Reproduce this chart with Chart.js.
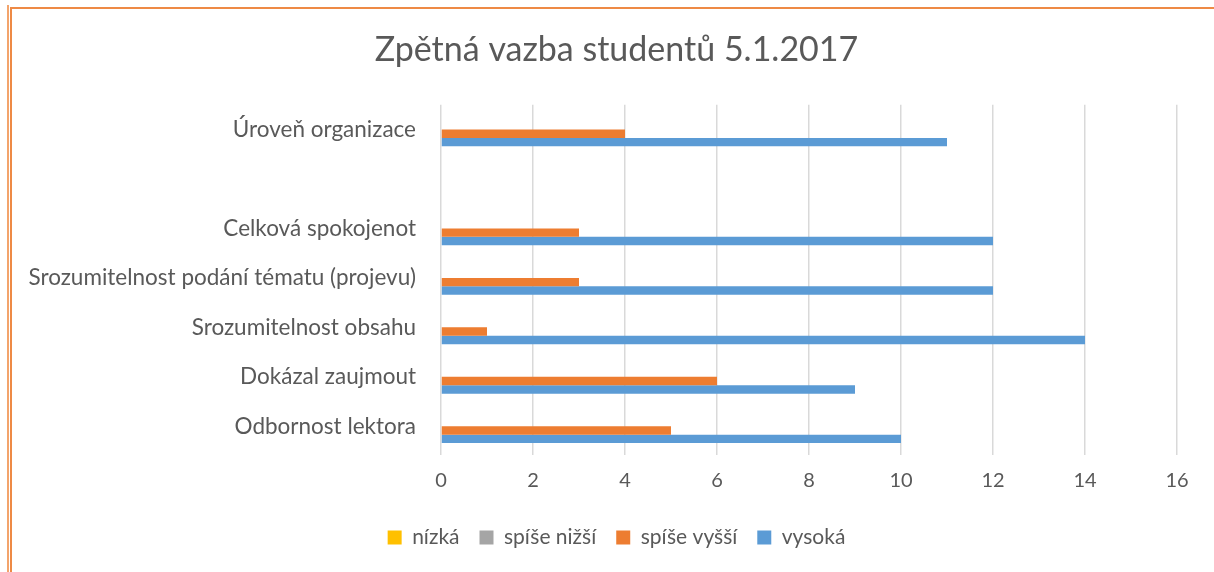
<!DOCTYPE html>
<html>
<head>
<meta charset="utf-8">
<script src="https://cdn.jsdelivr.net/npm/chart.js@4"></script>
<style>
html,body{margin:0;padding:0;background:#fff;}
#wrap{position:relative;width:1214px;height:572px;}
</style>
</head>
<body>
<div id="wrap"><canvas id="c" width="1214" height="572"></canvas></div>
<script>
const categories = [
  'Úroveň organizace',
  '',
  'Celková spokojenot',
  'Srozumitelnost podání tématu (projevu)',
  'Srozumitelnost obsahu',
  'Dokázal zaujmout',
  'Odbornost lektora'
];
const seriesNames = ['nízká', 'spíše nižší', 'spíše vyšší', 'vysoká'];
const nizka      = [0, null, 0, 0, 0, 0, 0];
const spiseNizsi = [0, null, 0, 0, 0, 0, 0];
const spiseVyssi = [4, null, 3, 3, 1, 6, 5];
const vysoka     = [11, null, 12, 12, 14, 9, 10];
const xTicks = [0, 2, 4, 6, 8, 10, 12, 14, 16];
const colors = ['#FFC000', '#A5A5A5', '#ED7D31', '#5B9BD5'];

const FONT = 'Lato, "Open Sans", sans-serif';
const TXT = '#595959';

const framePlugin = {
  id: 'frame',
  beforeDraw(chart) {
    const ctx = chart.ctx;
    ctx.save();
    ctx.fillStyle = '#fff';
    ctx.fillRect(0, 0, chart.width, chart.height);
    ctx.fillStyle = '#F3A46C';
    ctx.fillRect(7, 5, 2, chart.height - 5);
    ctx.fillStyle = '#EE8A45';
    ctx.fillRect(10, 7, 2, chart.height - 7);
    ctx.fillRect(10, 7, chart.width - 10, 2);
    ctx.restore();
  }
};

const data = {
  labels: categories,
  datasets: [nizka, spiseNizsi, spiseVyssi, vysoka].map((vals, i) => ({
    label: seriesNames[i],
    data: vals,
    backgroundColor: colors[i],
    borderWidth: 0,
    barPercentage: 1.0,
    categoryPercentage: 0.68
  }))
};

const LEFT = 56;

new Chart(document.getElementById('c'), {
  type: 'bar',
  data,
  plugins: [framePlugin],
  options: {
    indexAxis: 'y',
    responsive: false,
    animation: false,
    layout: { padding: { left: LEFT, right: 37, top: 0, bottom: 14 } },
    plugins: {
      title: {
        display: true,
        text: 'Zpětná vazba studentů 5.1.2017',
        color: TXT,
        font: { family: FONT, size: 34, weight: 'normal' },
        padding: { top: 30, bottom: 34 }
      },
      legend: {
        position: 'bottom',
        labels: {
          color: TXT,
          font: { family: FONT, size: 21 },
          boxWidth: 14,
          boxHeight: 14,
          padding: 20
        }
      },
      tooltip: { enabled: false }
    },
    scales: {
      x: {
        min: 0,
        max: 16,
        afterBuildTicks(scale) { scale.ticks = xTicks.map(v => ({ value: v })); },
        grid: { color: '#D9D9D9', lineWidth: 1.5, drawTicks: true, tickLength: 4 },
        border: { display: false },
        ticks: { color: TXT, font: { family: FONT, size: 20 }, padding: 14 }
      },
      y: {
        grid: { display: false, drawTicks: false },
        border: { display: false },
        ticks: { color: TXT, font: { family: FONT, size: 22.5 }, padding: 25, autoSkip: false },
        afterFit(scale) {
          scale.width = 441 - LEFT;
          scale._computeLabelArea = () => null;
        }
      }
    }
  }
});
</script>
</body>
</html>
